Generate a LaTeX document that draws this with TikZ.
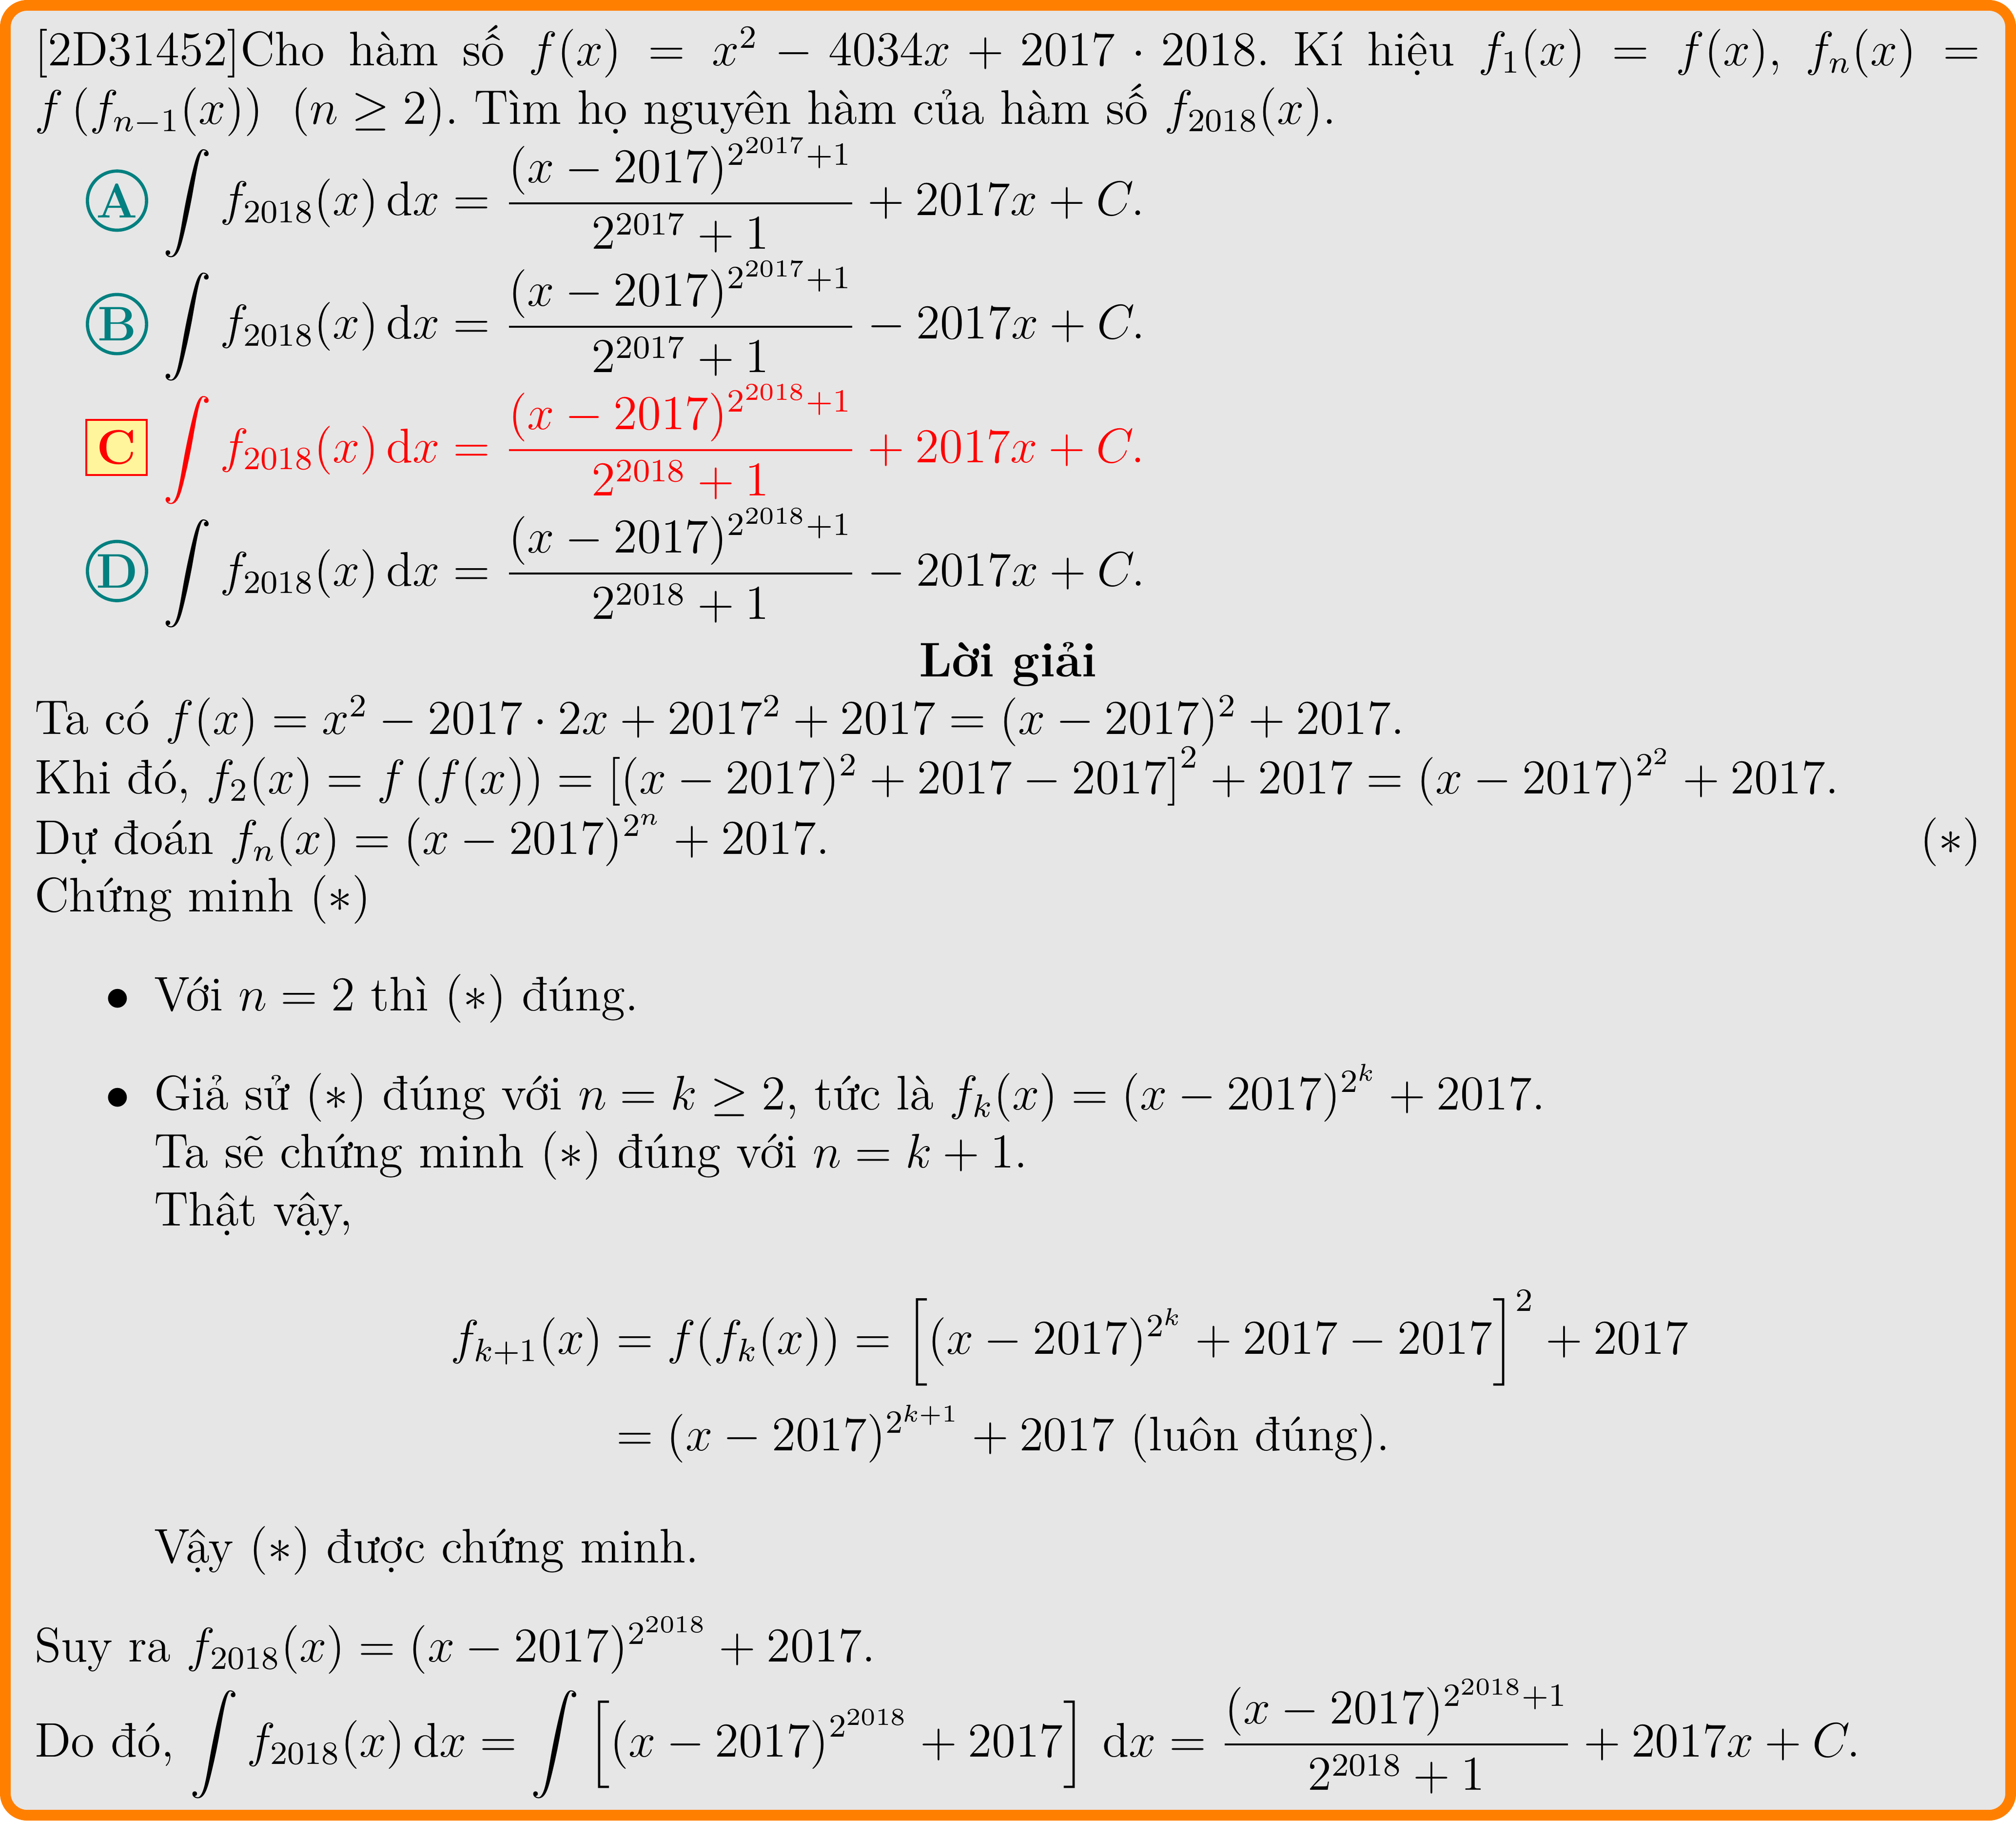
\documentclass[tikz,border=0pt]{standalone}
\usepackage{fontspec}
\usepackage{amsmath}
\definecolor{borderorange}{RGB}{255,128,0}
\definecolor{boxgray}{RGB}{230,230,230}
\definecolor{circteal}{RGB}{0,128,128}
\definecolor{ansyellow}{RGB}{255,245,157}
\frenchspacing
\begin{document}
\begin{tikzpicture}[x=0.3175pt,y=-0.3175pt,
  every node/.style={inner sep=0pt,outer sep=0pt,font=\fontsize{12}{14.5}\selectfont},
  txt/.style={anchor=base west},
  circlabel/.style={circle,draw=circteal,line width=0.8pt,minimum size=14.6pt,text=circteal,font=\fontsize{12}{14.5}\selectfont\bfseries},
  rightlabel/.style={rectangle,draw=red,fill=ansyellow,line width=0.5pt,minimum width=15pt,minimum height=13.6pt,text=red,font=\fontsize{12}{14.5}\selectfont\bfseries}]
\useasboundingbox (0,0) rectangle (1568,1415.6);
\draw[draw=borderorange,fill=boxgray,line width=2.64pt,rounded corners=5.4pt] (4.15,4.15) rectangle (1563.85,1411.45);
% question
\node[txt] (q) at (27,51) {\parbox[t]{480.4pt}{\fontsize{12}{14.5}\selectfont\frenchspacing [2D31452]Cho hàm số $f(x) = x^2 - 4034x + 2017\cdot 2018$. Kí hiệu $f_1(x)=f(x)$, $f_n(x)=$\linebreak $f\left(f_{n-1}(x)\right)$\hspace{7pt}$(n\geq 2)$. Tìm họ nguyên hàm của hàm số $f_{2018}(x)$.}};
% choices
\node[circlabel] (la) at (91,156) {A};
\node[txt] (ca) at (127,167.5) {$\displaystyle\int f_{2018}(x)\,\mathrm{d}x=\frac{(x-2017)^{2^{2017}+1}}{2^{2017}+1}+2017x+C.$};
\node[circlabel] (lb) at (91,252) {B};
\node[txt] (cb) at (127,263.5) {$\displaystyle\int f_{2018}(x)\,\mathrm{d}x=\frac{(x-2017)^{2^{2017}+1}}{2^{2017}+1}-2017x+C.$};
\node[rightlabel] (lc) at (90.6,347.8) {C};
\node[txt,text=red] (cc) at (127,359.5) {$\displaystyle\int f_{2018}(x)\,\mathrm{d}x=\frac{(x-2017)^{2^{2018}+1}}{2^{2018}+1}+2017x+C.$};
\node[circlabel] (ld) at (91,444) {D};
\node[txt] (cd) at (127,455.5) {$\displaystyle\int f_{2018}(x)\,\mathrm{d}x=\frac{(x-2017)^{2^{2018}+1}}{2^{2018}+1}-2017x+C.$};
% solution
\node[anchor=base,font=\fontsize{12}{14.5}\selectfont\bfseries] (title) at (784,526) {Lời giải};
\node[txt] (s1) at (27,571) {Ta có $f(x)=x^2-2017\cdot 2x+2017^2+2017=(x-2017)^2+2017$.};
\node[txt] (s2) at (27,617) {Khi đó, $f_2(x)=f\left(f(x)\right)=\left[(x-2017)^2+2017-2017\right]^2+2017=(x-2017)^{2^2}+2017$.};
\node[txt] (s3) at (27,664) {Dự đoán $f_n(x)=(x-2017)^{2^n}+2017$.};
\node[anchor=base east] (star) at (1541,664) {$(*)$};
\node[txt] (s4) at (27,709) {Chứng minh $(*)$};
\node[anchor=base east] (b1) at (101,786) {$\bullet$};
\node[txt] (i1) at (120,786) {Với $n=2$ thì $(*)$ đúng.};
\node[anchor=base east] (b2) at (101,863) {$\bullet$};
\node[txt] (i2) at (120,863) {Giả sử $(*)$ đúng với $n=k\geq 2$, tức là $f_k(x)=(x-2017)^{2^k}+2017$.};
\node[txt] (i3) at (120,908) {Ta sẽ chứng minh $(*)$ đúng với $n=k+1$.};
\node[txt] (i4) at (120,953) {Thật vậy,};
\node[anchor=base east] (e1l) at (469,1053) {$f_{k+1}(x)$};
\node[txt] (e1r) at (469,1053) {${}=f(f_k(x))=\left[(x-2017)^{2^k}+2017-2017\right]^2+2017$};
\node[txt] (e2r) at (469,1128) {${}=(x-2017)^{2^{k+1}}+2017$ (luôn đúng).};
\node[txt] (i5) at (120,1215) {Vậy $(*)$ được chứng minh.};
\node[txt] (s5) at (27,1292) {Suy ra $f_{2018}(x)=(x-2017)^{2^{2018}}+2017$.};
\node[txt] (s6) at (27,1366) {Do đó, $\displaystyle\int f_{2018}(x)\,\mathrm{d}x=\int\left[(x-2017)^{2^{2018}}+2017\right]\,\mathrm{d}x=\frac{(x-2017)^{2^{2018}+1}}{2^{2018}+1}+2017x+C.$};
\end{tikzpicture}
\end{document}
